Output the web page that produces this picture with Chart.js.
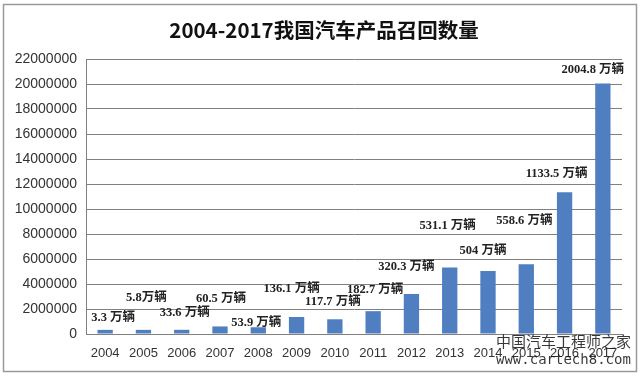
<!DOCTYPE html>
<html><head><meta charset="utf-8">
<script src="https://cdn.jsdelivr.net/npm/chart.js@4/dist/chart.umd.min.js"></script>
<style>html,body{margin:0;padding:0;background:#fff}canvas{display:block}</style>
</head><body>
<canvas id="c" width="640" height="376"></canvas>
<script>
const titleText = '2004-2017我国汽车产品召回数量';
const categories = ['2004','2005','2006','2007','2008','2009','2010','2011','2012','2013','2014','2015','2016','2017'];
const recallValues = [330000, 330000, 336000, 605000, 539000, 1361000, 1177000, 1827000, 3203000, 5311000, 5040000, 5586000, 11335000, 20048000];
const valueLabels = ['3.3 万辆','5.8万辆','33.6 万辆','60.5 万辆','53.9 万辆','136.1 万辆','117.7 万辆','182.7 万辆','320.3 万辆','531.1 万辆','504 万辆','558.6 万辆','1133.5 万辆','2004.8 万辆'];
const yTicks = [0,2000000,4000000,6000000,8000000,10000000,12000000,14000000,16000000,18000000,20000000,22000000];
// label placement (pixel offsets from bar top centre)
const labelOffsets = [[8,-12],[3,-32],[3,-17],[1,-28],[-2,-4],[-5,-28],[-2,-18],[2,-21],[-5,-27],[-2,-42],[-5,-20],[-2,-43],[-8,-19],[-10,-14]];

const decor = {
  id:'decor',
  afterDraw(chart){
    const ctx = chart.ctx;
    ctx.save();
    // frame
    ctx.strokeStyle = '#9a9a9a'; ctx.lineWidth = 1.5;
    ctx.strokeRect(3.5, 4.5, 633, 367);
    // title
    ctx.fillStyle = '#111';
    ctx.font = 'bold 20.5px "Noto Sans CJK SC", sans-serif';
    ctx.textAlign = 'center'; ctx.textBaseline = 'middle';
    ctx.fillText(titleText, 324, 30);
    // value labels
    const meta = chart.getDatasetMeta(0);
    ctx.font = 'bold 12.5px "Liberation Serif", "Noto Sans CJK SC", serif';
    ctx.fillStyle = '#222';
    meta.data.forEach((bar, i) => {
      const o = labelOffsets[i];
      ctx.fillText(valueLabels[i], bar.x + o[0], bar.y + o[1]);
    });
    // watermark
    ctx.fillStyle = 'rgba(20,20,20,0.85)';
    ctx.font = '15px "Noto Sans CJK SC", sans-serif';
    ctx.textAlign = 'left';
    ctx.fillText('中国汽车工程师之家', 496, 341);
    ctx.font = '14px "DejaVu Sans Mono", monospace';
    ctx.fillText('www.cartech8.com', 496, 360);
    ctx.restore();
  }
};

new Chart(document.getElementById('c'), {
  type: 'bar',
  data: { labels: categories, datasets: [{ data: recallValues, backgroundColor: '#4f7fc0', barPercentage: 0.4, categoryPercentage: 1 }] },
  options: {
    responsive: false, animation: false,
    layout: { padding: { top: 59, right: 18, left: 0, bottom: 0 } },
    plugins: { legend: { display: false }, tooltip: { enabled: false } },
    scales: {
      x: {
        grid: { display: false, drawTicks: false },
        border: { color: '#808080', width: 1 },
        ticks: { color: '#333', font: { family: '"Liberation Sans", sans-serif', size: 13 }, padding: 12, maxRotation: 0, autoSkip: false },
        afterFit(s){ s.height = 42; }
      },
      y: {
        min: 0, max: 22000000,
        afterBuildTicks(s){ s.ticks = yTicks.map(v => ({ value: v })); },
        grid: { color: '#808080', drawTicks: false, lineWidth: 1 },
        border: { color: '#808080', width: 1 },
        ticks: { color: '#333', font: { family: '"Liberation Sans", sans-serif', size: 14 }, padding: 9, callback: v => String(v) },
        afterFit(s){ s.width = 86; }
      }
    }
  },
  plugins: [decor]
});
</script>
</body></html>
